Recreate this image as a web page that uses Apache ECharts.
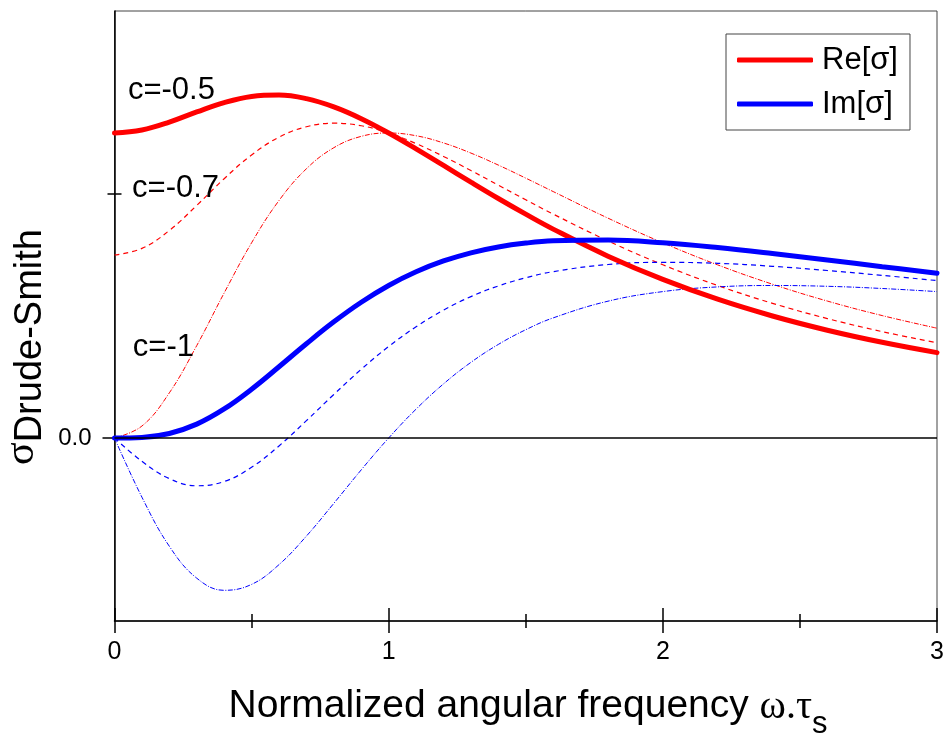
<!DOCTYPE html>
<html>
<head>
<meta charset="utf-8">
<script src="https://cdn.jsdelivr.net/npm/echarts@6/dist/echarts.min.js"></script>
<style>
html,body{margin:0;padding:0;background:#fff;}
#chart{width:943px;height:733px;}
</style>
</head>
<body>
<div id="chart"></div>
<script>
// Normalized angular frequency ω.τs
var xValues = [0, 0.1, 0.2, 0.3, 0.4, 0.5, 0.6, 0.7, 0.8, 0.9, 1.0, 1.1, 1.2, 1.3, 1.4, 1.5, 1.6, 1.8, 2.0, 2.2, 2.4, 2.6, 2.8, 3.0];
// Re[σ] for c = -0.5, -0.7, -1
var reC05 = [0.5, 0.5049, 0.5178, 0.5345, 0.5499, 0.56, 0.5623, 0.5563, 0.5428, 0.5235, 0.5, 0.474, 0.4468, 0.4194, 0.3926, 0.3669, 0.3424, 0.2981, 0.26, 0.2275, 0.2, 0.1767, 0.1569, 0.14];
var reC07 = [0.3, 0.3108, 0.3402, 0.3813, 0.4251, 0.464, 0.4931, 0.5103, 0.5161, 0.5119, 0.5, 0.4826, 0.4616, 0.4385, 0.4145, 0.3905, 0.3671, 0.3231, 0.284, 0.25, 0.2208, 0.1958, 0.1744, 0.156];
var reC10 = [0, 0.0196, 0.074, 0.1515, 0.2378, 0.32, 0.3893, 0.4414, 0.4759, 0.4945, 0.5, 0.4955, 0.4837, 0.4671, 0.4474, 0.426, 0.404, 0.3604, 0.32, 0.2838, 0.2521, 0.2245, 0.2007, 0.18];
// Im[σ] for c = -0.5, -0.7, -1
var imC05 = [0, 0.001, 0.0074, 0.0227, 0.0476, 0.08, 0.1168, 0.1545, 0.1904, 0.2225, 0.25, 0.2725, 0.2902, 0.3036, 0.3132, 0.3195, 0.3232, 0.3244, 0.32, 0.3122, 0.3025, 0.2919, 0.2809, 0.27];
var imC07 = [0, -0.0382, -0.0666, -0.0783, -0.0713, -0.048, -0.013, 0.0284, 0.0714, 0.1126, 0.15, 0.1824, 0.2096, 0.2318, 0.2493, 0.2627, 0.2727, 0.2844, 0.288, 0.2864, 0.2815, 0.2746, 0.2666, 0.258];
var imC10 = [0, -0.097, -0.1775, -0.2298, -0.2497, -0.24, -0.2076, -0.1608, -0.1071, -0.0522, 0, 0.0473, 0.0887, 0.124, 0.1534, 0.1775, 0.1969, 0.2243, 0.24, 0.2477, 0.25, 0.2487, 0.2451, 0.24];
// annotations
var noteTexts = ['c=-0.5', 'c=-0.7', 'c=-1'];
var noteX = [0.049, 0.064, 0.067];
var noteY = [0.570, 0.409, 0.148];
// axis ticks
var yLabelValues = [0];
var yMinorValues = [0.4];
var legendNames = ['Re[σ]', 'Im[σ]'];

function pairs(ys) { return xValues.map(function (x, i) { return [x, ys[i]]; }); }

var RED = '#ff0000', BLUE = '#0000ff';
function thin(name, ys, color, dash, w) {
  return {
    name: name, type: 'line', data: pairs(ys), smooth: 0.4, symbol: 'none',
    xAxisIndex: 0, yAxisIndex: 0,
    lineStyle: { color: color, width: w, type: dash },
    itemStyle: { color: color }, z: 2
  };
}

var chart = echarts.init(document.getElementById('chart'), null, { renderer: 'canvas' });
var baseX = { type: 'value', min: 0, max: 3, interval: 1, gridIndex: 0, position: 'bottom', splitLine: { show: false } };
var baseY = { type: 'value', min: -0.3, max: 0.7, gridIndex: 0, position: 'left', splitLine: { show: false } };
var tickLine = { color: '#000', width: 1.5 };

chart.setOption({
  animation: false,
  textStyle: { fontFamily: 'Liberation Sans, Arial, sans-serif' },
  grid: { left: 114.5, right: 6, top: 11, bottom: 112, show: true, borderColor: '#444', borderWidth: 1, backgroundColor: 'transparent', containLabel: false, outerBoundsMode: 'none' },
  xAxis: [
    Object.assign({}, baseX, {
      axisLine: { show: true, onZero: false, lineStyle: tickLine },
      axisTick: { show: true, inside: false, length: 12, lineStyle: tickLine },
      minorTick: { show: true, splitNumber: 2, length: 7, lineStyle: tickLine },
      axisLabel: { show: true, fontSize: 25, color: '#000', margin: 19, formatter: function (v) { return String(v); } }
    }),
    Object.assign({}, baseX, {
      axisLine: { show: false, onZero: false },
      axisTick: { show: true, inside: true, length: 13, lineStyle: tickLine },
      minorTick: { show: true, splitNumber: 2, length: 7, lineStyle: tickLine },
      axisLabel: { show: false }
    })
  ],
  yAxis: [
    Object.assign({}, baseY, {
      axisLine: { show: true, onZero: false, lineStyle: tickLine },
      axisTick: { show: true, inside: false, length: 12, customValues: yLabelValues, lineStyle: tickLine },
      axisLabel: { show: true, fontSize: 24, color: '#000', margin: 23, customValues: yLabelValues, formatter: function (v) { return Number(v).toFixed(1); } }
    }),
    Object.assign({}, baseY, {
      axisLine: { show: false, onZero: false },
      axisTick: { show: true, inside: false, length: 7, customValues: yMinorValues, lineStyle: tickLine },
      axisLabel: { show: false }
    }),
    Object.assign({}, baseY, {
      axisLine: { show: false, onZero: false },
      axisTick: { show: true, inside: true, length: 7, customValues: yMinorValues, lineStyle: tickLine },
      axisLabel: { show: false }
    })
  ],
  legend: {
    data: legendNames, selectedMode: false, orient: 'vertical',
    left: 726, top: 34, padding: [9, 12, 9, 11], itemGap: 10,
    itemWidth: 76, itemHeight: 5, icon: 'roundRect',
    borderColor: '#444', borderWidth: 1, backgroundColor: '#fff',
    textStyle: { fontSize: 31, color: '#000', lineHeight: 34, padding: [0, 0, 0, 4] }
  },
  series: [
    Object.assign(thin('Re c=-0.7', reC07, RED, [5, 4], 1.2), {
      markLine: {
        silent: true, symbol: ['none', 'none'], label: { show: false },
        lineStyle: { color: '#000', width: 1.5, type: 'solid' },
        data: [{ yAxis: 0 }]
      }
    }),
    thin('Re c=-1', reC10, RED, [5, 1.5, 1, 1.5], 1),
    thin('Im c=-0.7', imC07, BLUE, [5, 4], 1.2),
    thin('Im c=-1', imC10, BLUE, [5, 1.5, 1, 1.5], 1),
    {
      name: legendNames[0], type: 'line', data: pairs(reC05), smooth: 0.4, symbol: 'none',
      lineStyle: { color: RED, width: 5, cap: 'round' }, itemStyle: { color: RED }, z: 3,
      markPoint: {
        symbol: 'circle', symbolSize: 0, silent: true,
        label: { show: true, position: 'right', distance: 0, fontSize: 31, color: '#000', formatter: function (p) { return p.name; } },
        data: noteTexts.map(function (t, i) { return { name: t, coord: [noteX[i], noteY[i]], value: t }; })
      }
    },
    {
      name: legendNames[1], type: 'line', data: pairs(imC05), smooth: 0.4, symbol: 'none',
      lineStyle: { color: BLUE, width: 5, cap: 'round' }, itemStyle: { color: BLUE }, z: 3
    }
  ],
  graphic: [
    {
      type: 'text', x: 528, y: 687, z: 10,
      style: {
        text: '{a|Normalized angular frequency }{g|ω.τ}{s|s}',
        align: 'center', verticalAlign: 'top',
        rich: {
          a: { fontFamily: 'Liberation Sans', fontSize: 39, lineHeight: 42, verticalAlign: 'top', fill: '#000' },
          g: { fontFamily: 'Liberation Serif', fontSize: 40, lineHeight: 42, verticalAlign: 'top', fill: '#000' },
          s: { fontFamily: 'Liberation Sans', fontSize: 31, lineHeight: 32, padding: [22, 0, 0, 0], verticalAlign: 'top', fill: '#000' }
        }
      }
    },
    {
      type: 'text', x: 22, y: 347, rotation: Math.PI / 2, z: 10,
      style: {
        text: '{g|σ}{m|Drude-Smith}',
        align: 'center', verticalAlign: 'middle',
        rich: {
          g: { fontFamily: 'Liberation Serif', fontSize: 42, lineHeight: 42, verticalAlign: 'top', fill: '#000' },
          m: { fontFamily: 'Liberation Sans', fontSize: 38, lineHeight: 42, padding: [11, 0, 0, 0], verticalAlign: 'top', fill: '#000' }
        }
      }
    }
  ]
});
</script>
</body>
</html>
